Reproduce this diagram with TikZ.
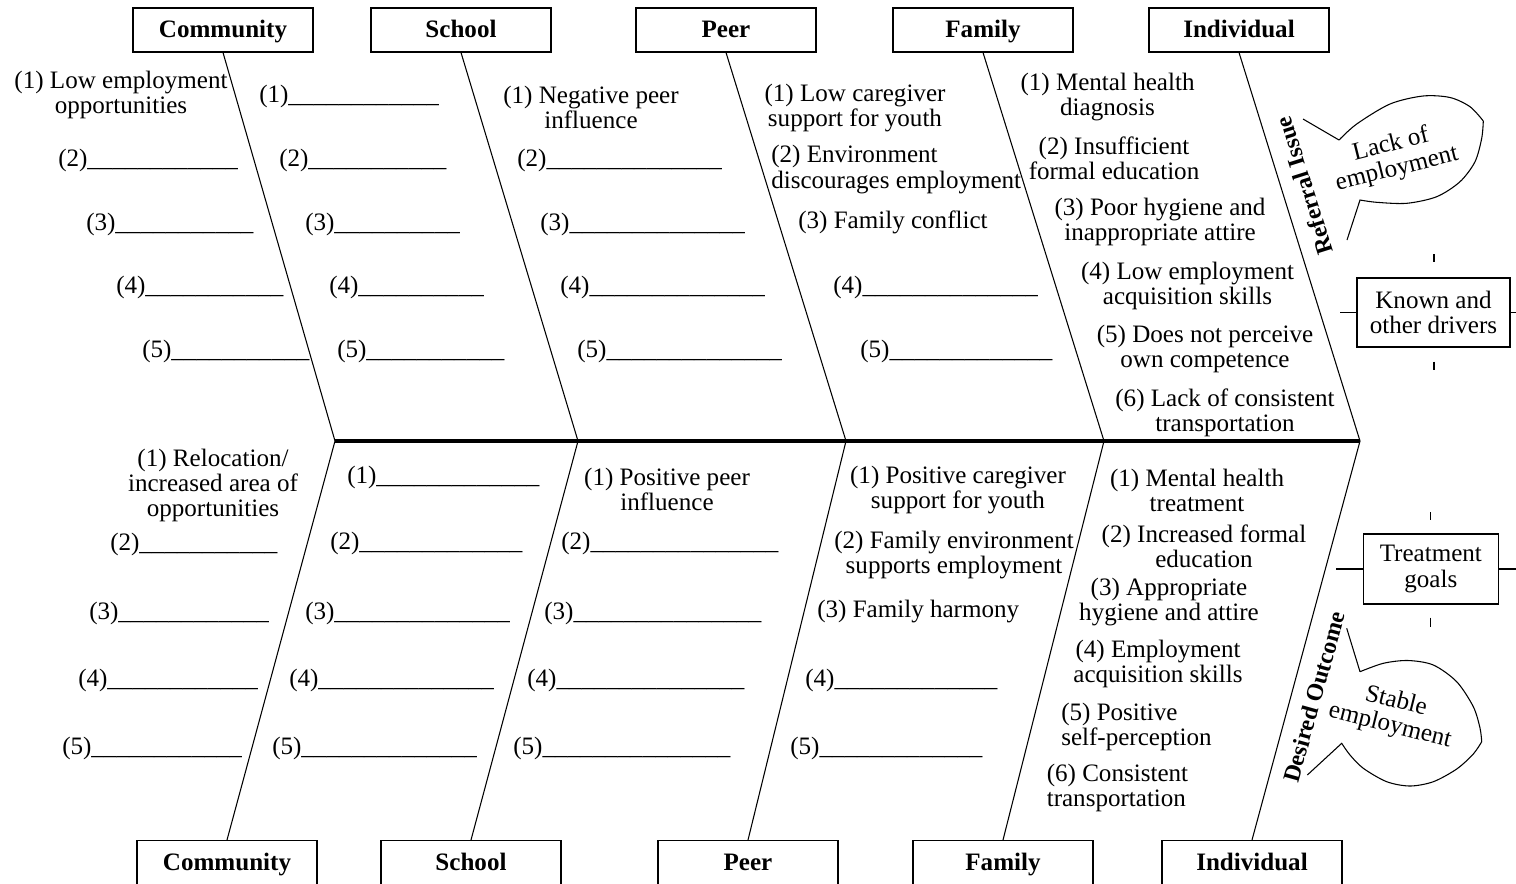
\documentclass[tikz,border=0pt]{standalone}
\usepackage{fontspec}
\setmainfont{Liberation Serif}
\usetikzlibrary{calc}
\newcommand\myfs{\fontsize{18.8}{18.8}\selectfont}
\ExplSyntaxOn
\NewDocumentCommand\ublank{m}{\prg_replicate:nn{#1}{\_}}
\ExplSyntaxOff
\begin{document}
\begin{tikzpicture}[x=0.75pt,y=-0.75pt,
  box/.style={draw,line width=0.8pt,minimum width=135pt,minimum height=33pt,inner sep=0,text height=14pt,text depth=2.5pt,font=\myfs\bfseries},
  obox/.style={draw,line width=0.8pt,inner sep=0,font=\myfs,align=center},
  lbl/.style={inner sep=0,font=\myfs},
  cl/.style={lbl,align=center},
  ll/.style={lbl,align=left,anchor=west},
  bl/.style={lbl,anchor=west},
  bone/.style={line width=0.8pt},
  spine/.style={line width=2.3pt},
  side/.style={inner sep=0,font=\fontsize{17.8}{17.8}\selectfont\bfseries},
  bub/.style={line width=0.8pt,line join=miter}]
\useasboundingbox (0,0) rectangle (1516,883);
\clip (0,0) rectangle (1516,883);

% spine coordinates
\coordinate (s1) at (335,441);
\coordinate (s2) at (578,441);
\coordinate (s3) at (846,441);
\coordinate (s4) at (1104,441);
\coordinate (s5) at (1360,441);

% top boxes
\node[box] (tc) at (223,30) {Community};
\node[box] (ts) at (461,30) {School};
\node[box] (tp) at (726,30) {Peer};
\node[box] (tf) at (983,30) {Family};
\node[box] (ti) at (1239,30) {Individual};
% bottom boxes
\node[box] (bc) at (227,862.5) {Community};
\node[box] (bs) at (471,862.5) {School};
\node[box] (bp) at (748,862.5) {Peer};
\node[box] (bf) at (1003,862.5) {Family};
\node[box] (bi) at (1252,862.5) {Individual};

% bones
\draw[bone] (tc.south) -- (s1);
\draw[bone] (ts.south) -- (s2);
\draw[bone] (tp.south) -- (s3);
\draw[bone] (tf.south) -- (s4);
\draw[bone] (ti.south) -- (s5);
\draw[bone] (s1) -- (bc.north);
\draw[bone] (s2) -- (bs.north);
\draw[bone] (s3) -- (bp.north);
\draw[bone] (s4) -- (bf.north);
\draw[bone] (s5) -- (bi.north);
\draw[spine] (s1) -- (s5);

% ---- top: Community
\node[cl] (tc1) at (121,95) {(1) Low employment\\opportunities};
\node[bl] (tc2) at (58,160) {(2)\ublank{12}};
\node[bl] (tc3) at (86,224) {(3)\ublank{11}};
\node[bl] (tc4) at (116,287) {(4)\ublank{11}};
\node[bl] (tc5) at (142,351) {(5)\ublank{11}};
% ---- top: School
\node[bl] (ts1) at (259,96) {(1)\ublank{12}};
\node[bl] (ts2) at (279,160) {(2)\ublank{11}};
\node[bl] (ts3) at (305,224) {(3)\ublank{10}};
\node[bl] (ts4) at (329,287) {(4)\ublank{10}};
\node[bl] (ts5) at (337,351) {(5)\ublank{11}};
% ---- top: Peer
\node[cl] (tp1) at (591,107) {(1) Negative peer\\influence};
\node[bl] (tp2) at (517,160) {(2)\ublank{14}};
\node[bl] (tp3) at (540,224) {(3)\ublank{14}};
\node[bl] (tp4) at (560,287) {(4)\ublank{14}};
\node[bl] (tp5) at (577,351) {(5)\ublank{14}};
% ---- top: Family
\node[cl] (tf1) at (855,108) {(1) Low caregiver\\support for youth};
\node[ll] (tf2) at (771,169.5) {(2) Environment\\discourages employment};
\node[bl] (tf3) at (798,222) {(3) Family conflict};
\node[bl] (tf4) at (833,287) {(4)\ublank{14}};
\node[bl] (tf5) at (860,351) {(5)\ublank{13}};
% ---- top: Individual
\node[cl] (ti1) at (1107.5,97) {(1) Mental health\\diagnosis};
\node[cl] (ti2) at (1114,158) {(2) Insufficient\\formal education};
\node[cl] (ti3) at (1160,221.5) {(3) Poor hygiene and\\inappropriate attire};
\node[cl] (ti4) at (1187.5,285.5) {(4) Low employment\\acquisition skills};
\node[cl] (ti5) at (1205,349) {(5) Does not perceive\\own competence};
\node[cl] (ti6) at (1225,413) {(6) Lack of consistent\\transportation};

% ---- bottom: Community
\node[cl] (bc1) at (213,485.5) {(1) Relocation/\\increased area of\\opportunities};
\node[bl] (bc2) at (110,544) {(2)\ublank{11}};
\node[bl] (bc3) at (89,613) {(3)\ublank{12}};
\node[bl] (bc4) at (78,680) {(4)\ublank{12}};
\node[bl] (bc5) at (62,748) {(5)\ublank{12}};
% ---- bottom: School
\node[bl] (bs1) at (347,477) {(1)\ublank{13}};
\node[bl] (bs2) at (330,543) {(2)\ublank{13}};
\node[bl] (bs3) at (305,613) {(3)\ublank{14}};
\node[bl] (bs4) at (289,680) {(4)\ublank{14}};
\node[bl] (bs5) at (272,748) {(5)\ublank{14}};
% ---- bottom: Peer
\node[cl] (bp1) at (667,489.5) {(1) Positive peer\\influence};
\node[bl] (bp2) at (561,543) {(2)\ublank{15}};
\node[bl] (bp3) at (544,613) {(3)\ublank{15}};
\node[bl] (bp4) at (527,680) {(4)\ublank{15}};
\node[bl] (bp5) at (513,748) {(5)\ublank{15}};
% ---- bottom: Family
\node[cl] (bf1) at (958,490) {(1) Positive caregiver\\support for youth};
\node[cl] (bf2) at (954,555) {(2) Family environment\\supports employment};
\node[bl] (bf3) at (817,611) {(3) Family harmony};
\node[bl] (bf4) at (805,680) {(4)\ublank{13}};
\node[bl] (bf5) at (790,748) {(5)\ublank{13}};
% ---- bottom: Individual
\node[cl] (bi1) at (1197,490) {(1) Mental health\\treatment};
\node[cl] (bi2) at (1204,546) {(2) Increased formal\\education};
\node[cl] (bi3) at (1169,602) {(3) Appropriate\\hygiene and attire};
\node[cl] (bi4) at (1158,664) {(4) Employment\\acquisition skills};
\node[ll] (bi5) at (1061,726.5) {(5) Positive\\self-perception};
\node[ll] (bi6) at (1046.5,788) {(6) Consistent\\transportation};

% side titles
\node[side,rotate=107.5] (ref) at (1304,186) {Referral Issue};
\node[side,rotate=74.4] (des) at (1314,697) {Desired Outcome};

% known / treatment boxes
\node[obox,minimum width=114.75pt,minimum height=51.75pt] (kd) at (1433.5,312.5) {Known and\\other drivers};
\draw[bone] (kd.west) -- ++(-16,0);
\draw[bone] (kd.east) -- ++(8,0);
\draw[bone] ($(kd.north)+(0.5,-23)$) -- ($(kd.north)+(0.5,-15)$);
\draw[bone] ($(kd.south)+(0.5,14)$) -- ($(kd.south)+(0.5,22)$);

\node[obox,minimum width=101.25pt,minimum height=52.5pt] (tg) at (1430.8,569) {Treatment\\goals};
\draw[bone] (tg.west) -- ++(-27,0);
\draw[bone] (tg.east) -- ++(20,0);
\draw[bone] ($(tg.north)+(0,-21)$) -- ($(tg.north)+(0,-13)$);
\draw[bone] ($(tg.south)+(0,13)$) -- ($(tg.south)+(0,22)$);

% speech bubble 1
\draw[bub] (1303,119) -- (1339,140)
  plot[smooth] coordinates {(1339,140) (1356.7,124) (1390,104) (1423,96) (1450,97.5) (1470,106.7) (1483.3,121)}
  plot[smooth] coordinates {(1483.3,121) (1481.7,138.3) (1475,161.7) (1460,181.7) (1436.7,196.7) (1406.7,203.3) (1376.7,202.3) (1360,200)}
  -- (1347,240);
\node[cl,rotate=14] (lk) at (1394,157) {Lack of\\employment};

% speech bubble 2
\draw[bub] (1346.7,628.3) -- (1360,671.7)
  plot[smooth] coordinates {(1360,671.7) (1383.3,663.3) (1408,660.5) (1433.3,665) (1456.7,681.7) (1473.3,706.7) (1480,728) (1481.7,741.7)}
  plot[smooth] coordinates {(1481.7,741.7) (1473.3,754) (1456.7,769) (1433.3,781.7) (1410,786) (1386.7,781.7) (1363.3,768.3) (1350,755) (1341.7,743.3)}
  -- (1307.3,775);
\node[cl,rotate=-14] (st) at (1393,714) {Stable\\employment};
\end{tikzpicture}
\end{document}
